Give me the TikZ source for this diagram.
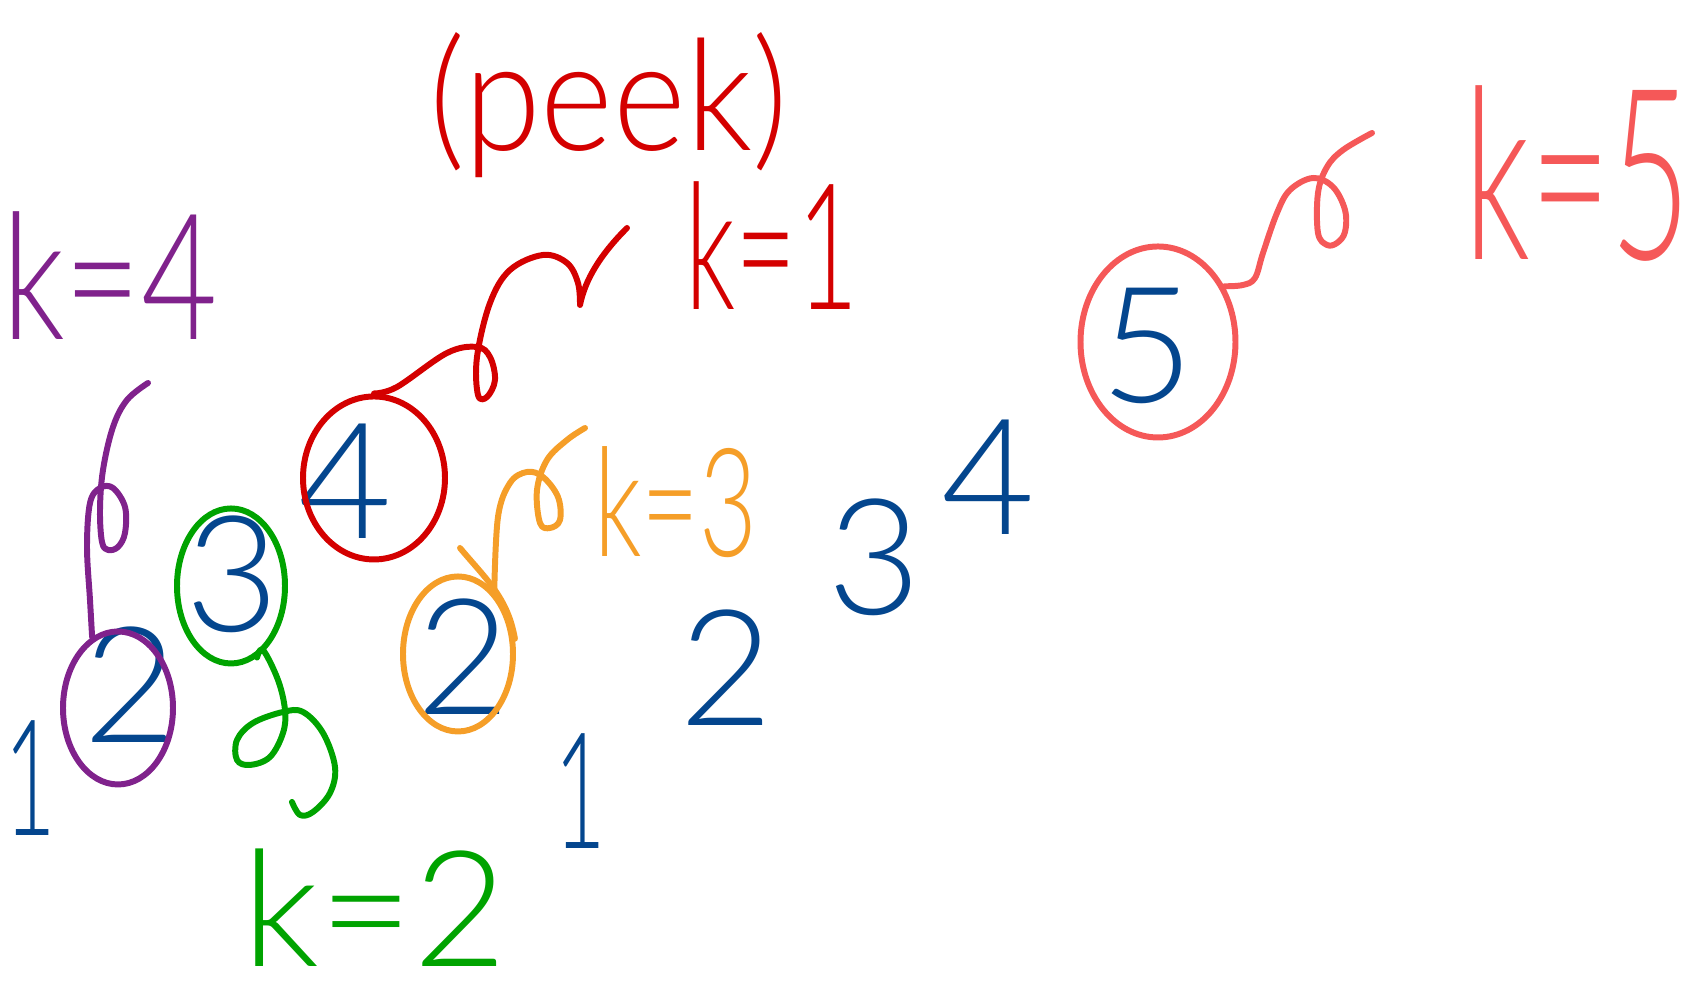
\documentclass[tikz,border=0pt]{standalone}
\usepackage{fontspec}
\setmainfont{Lato}[UprightFont=*-Light]
\usetikzlibrary{shapes.geometric}

\definecolor{blueink}{RGB}{4,70,142}
\definecolor{purpleink}{RGB}{128,34,140}
\definecolor{greenink}{RGB}{0,163,0}
\definecolor{redink}{RGB}{212,0,0}
\definecolor{orangeink}{RGB}{245,158,40}
\definecolor{coralink}{RGB}{245,88,88}

\begin{document}
\begin{tikzpicture}[
    digit/.style={
        text=blueink, inner sep=0pt,
        font=\fontsize{46}{50}\selectfont
    },
    ring/.style={
        ellipse, draw=#1, line width=1.7pt, inner sep=0pt
    },
    tail/.style={
        draw=#1, line width=1.7pt, line cap=round, line join=round
    },
    klabel/.style={text=#1, inner sep=0pt}
]
\useasboundingbox (0,0) rectangle (16.93,10);

% 1. THE SEQUENCE
\node[digit] (D1a) at (0.30, 2.22) {\scalebox{0.55}[1]{1}};
\node[digit] (D2a) at (1.30, 3.15) {2};
\node[digit] (D3a) at (2.32, 4.26) {3};
\node[digit] (D4a) at (3.45, 5.19) {4};
\node[digit] (D2b) at (4.63, 3.43) {2};
\node[digit] (D1b) at (5.80, 2.09) {\scalebox{0.55}[1]{1}};
\node[digit] (D2c) at (7.26, 3.32) {2};
\node[digit] (D3b) at (8.74, 4.43) {3};
\node[digit] (D4b) at (9.88, 5.23) {4};
\node[digit] (D5)  at (11.47, 6.54) {5};

% 2. RINGS round the picked values
\node[ring=purpleink, minimum width=1.10cm, minimum height=1.53cm] (R2a) at (1.18, 2.92) {};
\node[ring=greenink, minimum width=1.08cm, minimum height=1.55cm] (R3a) at (2.31, 4.14) {};
\node[ring=redink, minimum width=1.42cm, minimum height=1.63cm] (R4a) at (3.74, 5.22) {};
\node[ring=orangeink, minimum width=1.10cm, minimum height=1.55cm] (R2b) at (4.58, 3.46) {};
\node[ring=coralink, minimum width=1.55cm, minimum height=1.91cm] (R5) at (11.58, 6.58) {};

% 3. LABELS
\node[klabel=redink, font=\fontsize{44}{48}\selectfont] (Peek) at (6.09, 8.95) {\scalebox{0.9}[1]{(peek)}};
\node[klabel=redink, font=\fontsize{50}{54}\selectfont] (K1) at (7.72, 7.54) {\scalebox{0.6}[1]{k=1}};
\node[klabel=greenink, font=\fontsize{46}{50}\selectfont] (K2) at (3.75, 0.92) {\scalebox{1}[1]{k=2}};
\node[klabel=orangeink, font=\fontsize{43}{47}\selectfont] (K3) at (6.76, 4.98) {\scalebox{0.66}[1]{k=3}};
\node[klabel=purpleink, font=\fontsize{50}{54}\selectfont] (K4) at (1.10, 7.24) {\scalebox{0.75}[1]{k=4}};
\node[klabel=coralink, font=\fontsize{68}{72}\selectfont] (K5) at (15.78, 8.26) {\scalebox{0.58}[1]{k=5}};

% free ends of the tails
\coordinate (T1) at (6.27, 7.72);
\coordinate (T2) at (2.92, 1.98);
\coordinate (T3) at (5.85, 5.72);
\coordinate (T4) at (1.48, 6.17);
\coordinate (T5) at (13.72, 8.67);
\coordinate (O1) at (4.60, 4.52);

% 4. TAILS from ring to label
\draw[tail=purpleink] plot[smooth, tension=.6] coordinates {(R2a.110) (0.90,4.00) (0.87,4.53) (0.90,4.97) (1.00,5.12) (1.13,5.12) (1.25,4.93) (1.25,4.67) (1.18,4.53) (1.08,4.50) (1.02,4.58) (1.00,4.90) (1.03,5.30) (1.13,5.73) (1.27,6.00) (T4)};
\draw[tail=greenink] plot[smooth, tension=.6] coordinates {(R3a.-70) (2.63,3.50) (2.78,3.20) (2.85,2.90) (2.83,2.67) (2.70,2.43) (2.50,2.35) (2.37,2.40) (2.37,2.60) (2.53,2.77) (2.83,2.88) (3.03,2.88) (3.23,2.67) (3.35,2.33) (3.30,2.07) (3.13,1.88) (3.00,1.85) (T2)};
\draw[tail=redink] plot[smooth, tension=.6] coordinates {(R4a.north) (3.97,6.13) (4.47,6.47) (4.77,6.53) (4.90,6.43) (4.95,6.20) (4.87,6.03) (4.78,6.05) (4.77,6.43) (4.90,6.97) (5.10,7.30) (5.43,7.45) (5.67,7.37) (5.78,7.17) (5.80,6.95)} .. controls (5.85,7.20) and (6.00,7.45) .. (T1);
\draw[tail=orangeink] (R2b.15) to[out=100, in=-50] (O1);
\draw[tail=orangeink] plot[smooth, tension=.6] coordinates {(R2b.60) (4.98,4.83) (5.10,5.17) (5.27,5.28) (5.43,5.23) (5.58,5.03) (5.60,4.80) (5.50,4.72) (5.40,4.77) (5.37,5.10) (5.47,5.40) (5.67,5.60) (T3)};
\draw[tail=coralink] plot[smooth, tension=.6] coordinates {(R5.40) (12.43,7.15) (12.55,7.22) (12.63,7.47) (12.77,7.87) (12.90,8.10) (13.13,8.22) (13.33,8.13) (13.45,7.90) (13.45,7.68) (13.37,7.57) (13.27,7.55) (13.18,7.67) (13.18,8.07) (13.27,8.33) (13.43,8.50) (T5)};

\end{tikzpicture}
\end{document}
